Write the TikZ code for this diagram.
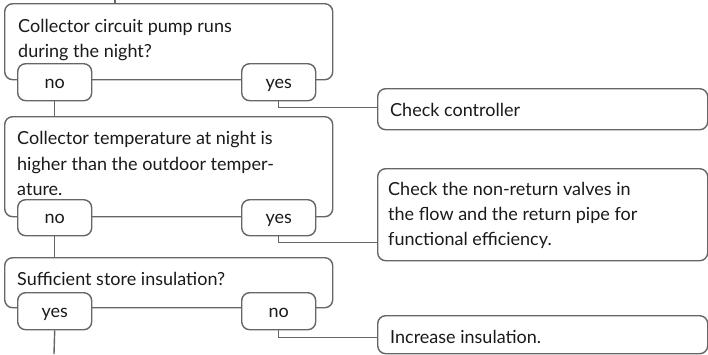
\documentclass[tikz,border=0pt]{standalone}
\usepackage{fontspec}
\setmainfont{Lato}
\usetikzlibrary{calc}
\definecolor{edge}{HTML}{666666}
\definecolor{ink}{HTML}{1A1A1A}
\tikzset{
  box/.style={draw=edge, line width=1.4pt, rounded corners=8pt, fill=white, inner sep=0pt, anchor=north west},
  conn/.style={draw=edge, line width=1.4pt},
  txt/.style={anchor=base west, inner sep=0pt, text=ink, font=\fontsize{18}{24}\selectfont},
  ctxt/.style={inner sep=0pt, text=ink, font=\fontsize{18}{24}\selectfont},
}
\begin{document}
\begin{tikzpicture}[x=1pt,y=-1pt]
\useasboundingbox (0,0) rectangle (708,354);
% question boxes
\node[box, minimum width=328pt, minimum height=76pt] (q1) at (4,3) {};
\node[box, minimum width=328pt, minimum height=100pt] (q2) at (4,116) {};
\node[box, minimum width=328pt, minimum height=50pt] (q3) at (4,257) {};
% answer boxes
\node[box, minimum width=74pt, minimum height=37pt] (n1) at (17,63) {};
\node[box, minimum width=74pt, minimum height=37pt] (y1) at (241,63) {};
\node[box, minimum width=74pt, minimum height=36pt] (n2) at (17,199) {};
\node[box, minimum width=74pt, minimum height=36pt] (y2) at (241,199) {};
\node[box, minimum width=74pt, minimum height=37pt] (y3) at (17,292) {};
\node[box, minimum width=74pt, minimum height=37pt] (n3) at (241,292) {};
% action boxes
\node[box, minimum width=330pt, minimum height=41pt] (a1) at (377,88) {};
\node[box, minimum width=330pt, minimum height=92pt] (a2) at (377,168) {};
\node[box, minimum width=330pt, minimum height=38pt] (a3) at (377,315) {};
% texts
\node[txt] (t1a) at (18,32) {Collector circuit pump runs};
\node[txt] (t1b) at (18,57) {during the night?};
\node[txt] (t2a) at (17,144) {Collector temperature at night is};
\node[txt] (t2b) at (17,170) {higher than the outdoor temper-};
\node[txt] (t2c) at (17,195) {ature.};
\node[txt] (t3a) at (17,285) {Sufficient store insulation?};
\node[txt] (ta1) at (390,116) {Check controller};
\node[txt] (ta2a) at (388,195) {Check the non-return valves in};
\node[txt] (ta2b) at (388,220) {the flow and the return pipe for};
\node[txt] (ta2c) at (388,245) {functional efficiency.};
\node[txt] (ta3) at (390,343) {Increase insulation.};
\node[ctxt, anchor=base] (ln1) at ($(n1.north)!0.5!(n1.south)+(0,6)$) {no};
\node[ctxt, anchor=base] (ly1) at ($(y1.north)!0.5!(y1.south)+(0,6)$) {yes};
\node[ctxt, anchor=base] (ln2) at ($(n2.north)!0.5!(n2.south)+(0,6)$) {no};
\node[ctxt, anchor=base] (ly2) at ($(y2.north)!0.5!(y2.south)+(0,6)$) {yes};
\node[ctxt, anchor=base] (ly3) at ($(y3.north)!0.5!(y3.south)+(0,6)$) {yes};
\node[ctxt, anchor=base] (ln3) at ($(n3.north)!0.5!(n3.south)+(0,6)$) {no};
% connectors
\coordinate (start) at (115,0);
\coordinate (finish) at (54,354);
\draw[conn] (start) -- (start |- q1.north);
\draw[conn] (n1.south) -- (n1.south |- q2.north);
\draw[conn] (n2.south) -- (n2.south |- q3.north);
\draw[conn] (y3.south) -- (finish);
\draw[conn] (y1.south) |- ([yshift=1.5pt]a1.west);
\draw[conn] (y2.south) |- ([yshift=-28pt]a2.west);
\draw[conn] (n3.south) |- ([yshift=-3pt]a3.west);
\end{tikzpicture}
\end{document}
